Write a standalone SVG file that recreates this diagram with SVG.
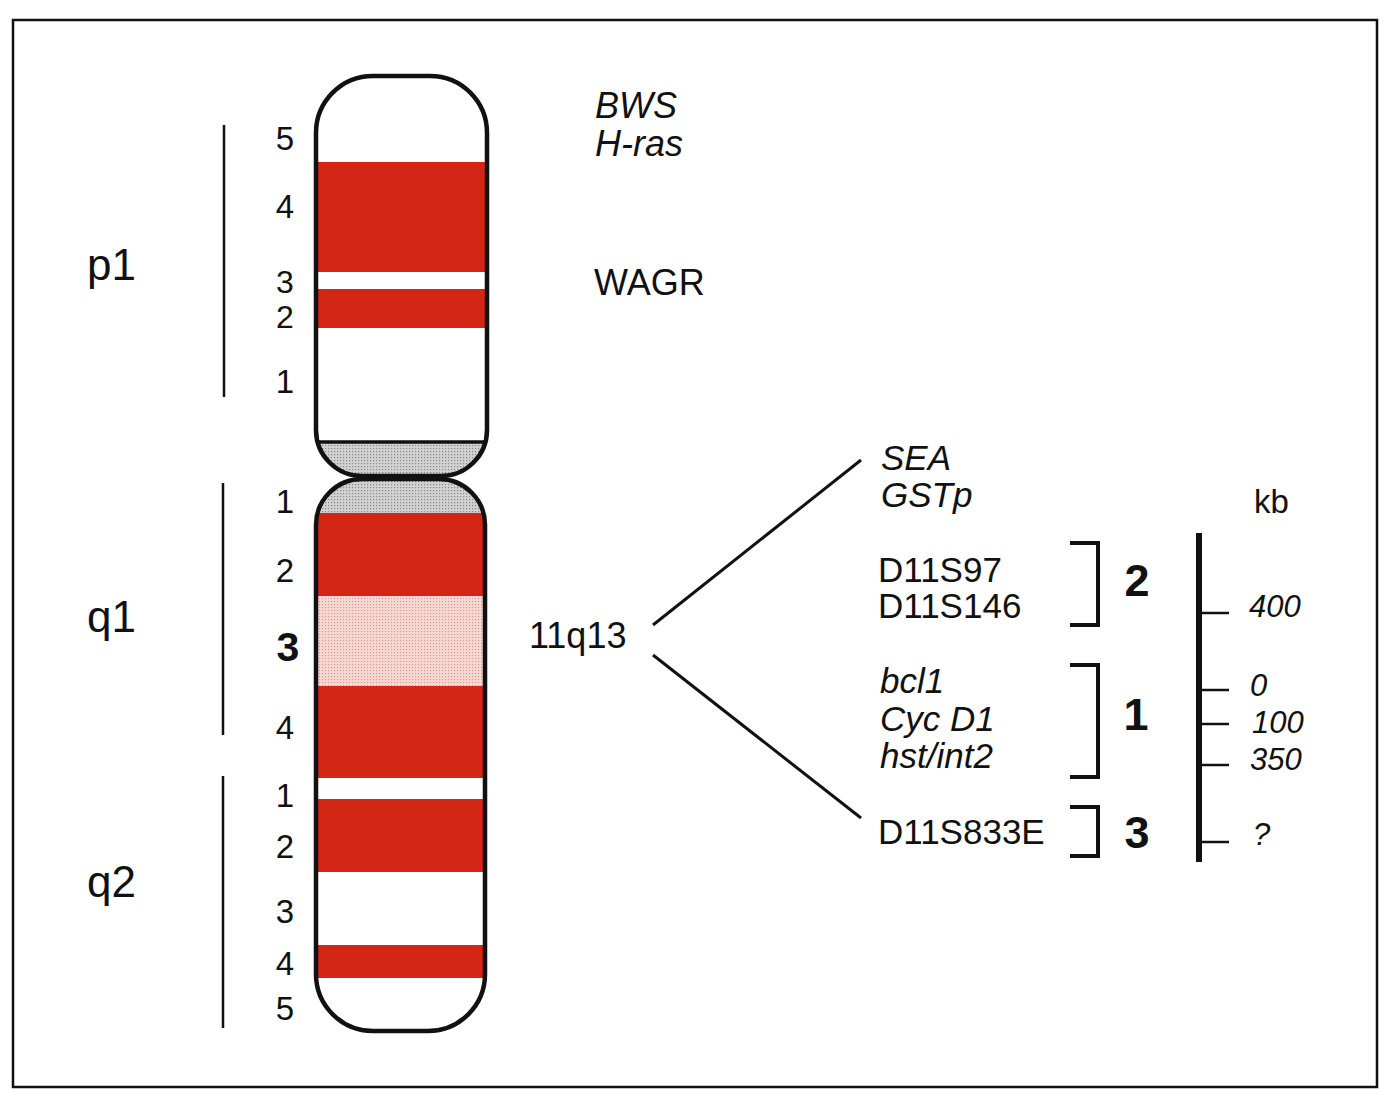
<svg xmlns="http://www.w3.org/2000/svg" width="1396" height="1100" viewBox="0 0 1396 1100">
<style>
text{font-family:"Liberation Sans",Arial,Helvetica,sans-serif;fill:#111}
.num{font-size:33px;text-anchor:middle}
.arm{font-size:44px}
.gene{font-size:36px}
.gl{font-size:35px}
.it{font-style:italic}
.big{font-size:45px;font-weight:bold;text-anchor:middle}
.kb{font-size:31px;font-style:italic}
.bar{stroke:#111;stroke-width:2.5;fill:none}
.out{fill:none;stroke:#111;stroke-width:4.5;stroke-linejoin:round}
.red{fill:#d32614}
.br{fill:none;stroke:#111;stroke-width:4}
.tk{stroke:#111;stroke-width:2.5}
</style>
<defs>
<pattern id="dots" width="3" height="3" patternUnits="userSpaceOnUse">
<rect width="3" height="3" fill="#d2d2d2"/>
<rect x="1" y="1" width="1.2" height="1.2" fill="#888"/>
</pattern>
<pattern id="pink" width="3" height="3" patternUnits="userSpaceOnUse">
<rect width="3" height="3" fill="#f5d8d2"/>
<rect x="1" y="1" width="1.1" height="1.1" fill="#df958a"/>
</pattern>
<clipPath id="cu"><path d="M316,133 A57,57 0 0 1 373,76 H430 A57,57 0 0 1 487,133 V430 A46,46 0 0 1 441,476 H362 A46,46 0 0 1 316,430 Z"/></clipPath>
<clipPath id="cl"><path d="M316,525 A46,46 0 0 1 362,479 H439 A46,46 0 0 1 485,525 V974 A57,57 0 0 1 428,1031 H373 A57,57 0 0 1 316,974 Z"/></clipPath>
</defs>
<rect x="0" y="0" width="1396" height="1100" fill="#fff"/>
<rect x="13" y="20" width="1364" height="1067" fill="none" stroke="#111" stroke-width="2.5"/>

<g id="chromosome">
<g id="p-arm" clip-path="url(#cu)">
<rect x="310" y="70" width="185" height="410" fill="#fff"/>
<rect class="red" x="310" y="162" width="185" height="110"/>
<rect class="red" x="310" y="289" width="185" height="39"/>
<rect x="310" y="442" width="185" height="40" fill="url(#dots)"/>
</g>
<g id="q-arm" clip-path="url(#cl)">
<rect x="310" y="475" width="185" height="560" fill="#fff"/>
<rect x="310" y="475" width="185" height="39" fill="url(#dots)"/>
<rect class="red" x="310" y="513" width="185" height="83"/>
<rect x="310" y="596" width="185" height="90" fill="url(#pink)"/>
<rect class="red" x="310" y="686" width="185" height="92"/>
<rect class="red" x="310" y="799" width="185" height="73"/>
<rect class="red" x="310" y="945" width="185" height="33"/>
</g>
<line x1="316" y1="442" x2="487" y2="442" stroke="#111" stroke-width="3.5"/>
<path class="out" d="M316,133 A57,57 0 0 1 373,76 H430 A57,57 0 0 1 487,133 V430 A46,46 0 0 1 441,476 H362 A46,46 0 0 1 316,430 Z"/>
<path class="out" d="M316,525 A46,46 0 0 1 362,479 H439 A46,46 0 0 1 485,525 V974 A57,57 0 0 1 428,1031 H373 A57,57 0 0 1 316,974 Z"/>
</g>

<g id="band-numbers">
<text class="num" x="285" y="150">5</text>
<text class="num" x="285" y="218">4</text>
<text class="num" x="285" y="293" style="font-size:32px">3</text>
<text class="num" x="285" y="328" style="font-size:32px">2</text>
<text class="num" x="285" y="393">1</text>
<text class="num" x="285" y="513" fill="#3a1414">1</text>
<text class="num" x="285" y="582">2</text>
<text class="num" x="288" y="661" style="font-size:41px;font-weight:bold">3</text>
<text class="num" x="285" y="739">4</text>
<text class="num" x="285" y="807">1</text>
<text class="num" x="285" y="858">2</text>
<text class="num" x="285" y="923">3</text>
<text class="num" x="285" y="975">4</text>
<text class="num" x="285" y="1020">5</text>
</g>

<g id="arm-labels">
<line class="bar" x1="224" y1="125" x2="224" y2="397"/>
<line class="bar" x1="223" y1="483" x2="223" y2="735"/>
<line class="bar" x1="223" y1="776" x2="223" y2="1028"/>
<text class="arm" x="87" y="280">p1</text>
<text class="arm" x="87" y="632">q1</text>
<text class="arm" x="87" y="897">q2</text>
</g>

<g id="p-genes">
<text class="gene it" x="595" y="118">BWS</text>
<text class="gene it" x="595" y="156">H-ras</text>
<text class="gene" x="594" y="295">WAGR</text>
</g>

<g id="region-label">
<text class="gene" x="529" y="648">11q13</text>
</g>

<g id="connectors">
<line x1="653" y1="625" x2="861" y2="460" stroke="#111" stroke-width="3"/>
<line x1="653" y1="655" x2="861" y2="818" stroke="#111" stroke-width="3"/>
</g>

<g id="gene-list">
<text class="gl it" x="881" y="470">SEA</text>
<text class="gl it" x="881" y="507">GSTp</text>
<text class="gl" x="878" y="582">D11S97</text>
<text class="gl" x="878" y="618">D11S146</text>
<text class="gl it" x="880" y="693">bcl1</text>
<text class="gl it" x="880" y="731">Cyc D1</text>
<text class="gl it" x="880" y="768">hst/int2</text>
<text class="gl" x="878" y="844">D11S833E</text>
</g>

<g id="brackets">
<path class="br" d="M1070,543 H1098 V625 H1070"/>
<text class="big" x="1137" y="596">2</text>
<path class="br" d="M1070,665 H1098 V777 H1070"/>
<text class="big" x="1136" y="730">1</text>
<path class="br" d="M1070,807 H1098 V856 H1070"/>
<text class="big" x="1137" y="848">3</text>
</g>

<g id="scale">
<line x1="1199" y1="533" x2="1199" y2="862" stroke="#111" stroke-width="6"/>
<line class="tk" x1="1199" y1="613" x2="1229" y2="613"/>
<line class="tk" x1="1199" y1="690" x2="1229" y2="690"/>
<line class="tk" x1="1199" y1="724" x2="1229" y2="724"/>
<line class="tk" x1="1199" y1="765" x2="1229" y2="765"/>
<line class="tk" x1="1199" y1="842" x2="1229" y2="842"/>
<text x="1254" y="513" style="font-size:33px">kb</text>
<text class="kb" x="1249" y="617">400</text>
<text class="kb" x="1250" y="696">0</text>
<text class="kb" x="1252" y="733">100</text>
<text class="kb" x="1250" y="770">350</text>
<text class="kb" x="1253" y="845">?</text>
</g>
</svg>
